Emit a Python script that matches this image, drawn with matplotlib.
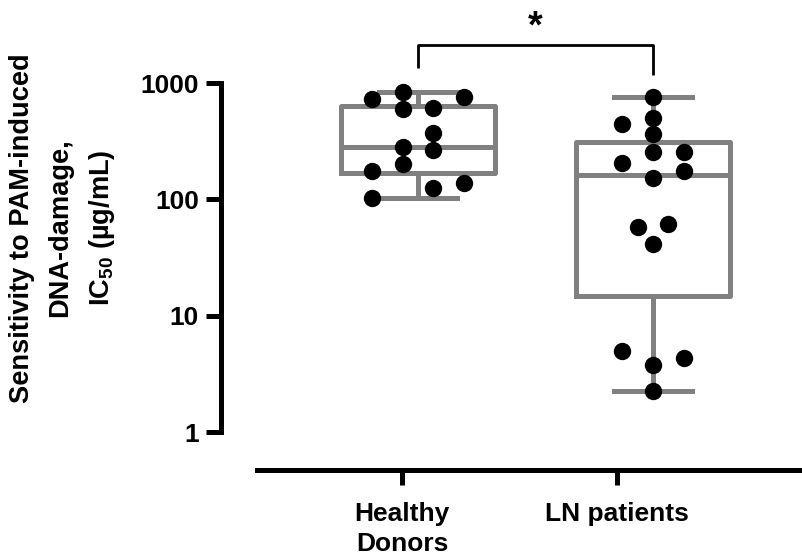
import numpy as np
import matplotlib
matplotlib.use("Agg")
import matplotlib.pyplot as plt

plt.rcParams["font.family"] = ["Liberation Sans", "DejaVu Sans"]
plt.rcParams["font.weight"] = "bold"
plt.rcParams["mathtext.fontset"] = "custom"
plt.rcParams["mathtext.rm"] = "Liberation Sans:bold"
plt.rcParams["mathtext.it"] = "Liberation Sans:bold"
plt.rcParams["mathtext.bf"] = "Liberation Sans:bold"

# ---- data -------------------------------------------------------------
groups = ["Healthy\nDonors", "LN patients"]

healthy_ic50 = [724, 842, 763, 594, 614, 370, 280, 266, 201, 176, 124, 137, 102]
ln_ic50 = [754, 442, 497, 365, 257, 257, 204, 175, 152, 58.2, 61, 41.1,
           5.0, 4.3, 3.77, 2.27]

# box summary (lower quartile, median, upper quartile)
box_q1 = [167, 14.8]
box_med = [280, 162]
box_q3 = [634, 313]

yticks = [1, 10, 100, 1000]
ytick_labels = ["1", "10", "100", "1000"]
significance = "*"

# ---- layout ----------------------------------------------------------
# swarm slot of every point (horizontal offset in half-marker steps)
healthy_slots = [-3, -1, 3, -1, 1, 1, -1, 1, -1, -3, 1, 3, -3]
ln_slots = [0, -2, 0, 0, 0, 2, -2, 2, 0, -1, 1, 0, -2, 2, 0, 0]
slot_step = 0.0655
positions = [1, 2]

W, H = 803, 555
fig = plt.figure(figsize=(W / 100, H / 100), dpi=100)

def px_rect(x0, y0, x1, y1):
    return [x0 / W, 1 - y1 / H, (x1 - x0) / W, (y1 - y0) / H]

grey = "#808080"
lw_axis = 3.6

# main plotting area: y spine at x=221, y-axis floor at y=470
ax = fig.add_axes(px_rect(221, 0, 803, 470))
ax.set_yscale("log")
ax.set_xlim(0.1617, 2.638)
ax.set_ylim(0.4714, 5171)
ax.patch.set_alpha(0)

data = [healthy_ic50, ln_ic50]
stats = []
for i, vals in enumerate(data):
    stats.append(dict(med=box_med[i], q1=box_q1[i], q3=box_q3[i],
                      whislo=min(vals), whishi=max(vals), fliers=[]))

ax.bxp(stats, positions=positions, widths=0.655, capwidths=0.332,
       showfliers=False, patch_artist=False,
       boxprops=dict(color=grey, linewidth=3.6),
       medianprops=dict(color=grey, linewidth=3.6),
       whiskerprops=dict(color=grey, linewidth=3.6),
       capprops=dict(color=grey, linewidth=3.6),
       manage_ticks=False, zorder=2)

for pos, vals, slots in zip(positions, data, [healthy_slots, ln_slots]):
    xs = pos + np.array(slots) * slot_step
    ax.plot(xs, vals, "o", color="black", markersize=12.5,
            markeredgewidth=0, zorder=3, clip_on=False)

# significance bracket
bracket_top = 2120
ax.plot([positions[0], positions[0], positions[1], positions[1]],
        [1346, bracket_top, bracket_top, 1172],
        color="black", linewidth=2.0, clip_on=False, solid_capstyle="butt")
ax.text(np.mean(positions), 3030, significance, ha="center", va="center",
        fontsize=27, fontweight="bold")

for s in ["top", "right", "bottom"]:
    ax.spines[s].set_visible(False)
ax.spines["left"].set_linewidth(lw_axis)
ax.spines["left"].set_bounds(1, 1000)
ax.set_xticks([])
ax.set_yticks(yticks)
ax.set_yticklabels(ytick_labels)
ax.yaxis.set_minor_locator(matplotlib.ticker.NullLocator())
ax.tick_params(axis="y", length=11, width=lw_axis, pad=5, labelsize=19)

# category axis below the plot
axc = fig.add_axes(px_rect(257, 300, 803, 470))
axc.patch.set_alpha(0)
axc.set_xlim(-0.674, 1.865)
for s in ["top", "right", "left"]:
    axc.spines[s].set_visible(False)
axc.spines["bottom"].set_linewidth(lw_axis)
axc.set_yticks([])
axc.set_xticks(range(len(groups)))
axc.set_xticklabels(groups, fontsize=19, linespacing=1.3)
axc.tick_params(axis="x", length=11, width=lw_axis, pad=12)

fig.text(63 / W, 1 - 228 / H,
         "Sensitivity to PAM-induced\nDNA-damage,\nIC$_{50}$ (µg/mL)",
         rotation=90, ha="center", va="center", multialignment="center",
         fontsize=19.6, fontweight="bold", linespacing=1.6)

fig.savefig("out.png", dpi=100)
